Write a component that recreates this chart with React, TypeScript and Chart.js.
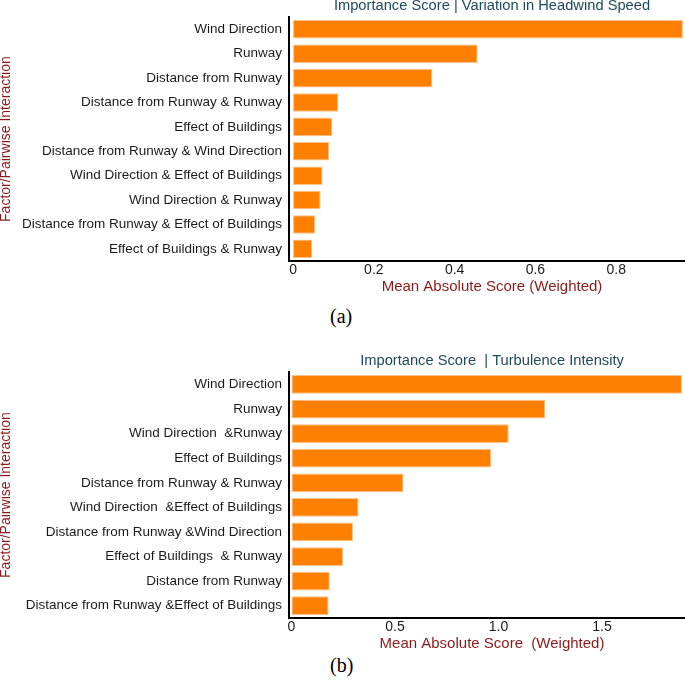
import React, { useEffect, useRef } from "react";
import { Chart, registerables } from "chart.js";

Chart.register(...registerables);

// ---- Data: panel (a) ----
const titleA = "Importance Score | Variation in Headwind Speed";
const categoriesA = [
  "Wind Direction",
  "Runway",
  "Distance from Runway",
  "Distance from Runway & Runway",
  "Effect of Buildings",
  "Distance from Runway & Wind Direction",
  "Wind Direction & Effect of Buildings",
  "Wind Direction & Runway",
  "Distance from Runway & Effect of Buildings",
  "Effect of Buildings & Runway",
];
const valuesA = [0.965, 0.457, 0.345, 0.112, 0.097, 0.089, 0.073, 0.068, 0.055, 0.047];
const xTickValuesA = [0, 0.2, 0.4, 0.6, 0.8];
const xTickLabelsA = ["0", "0.2", "0.4", "0.6", "0.8"];
const xTitleA = "Mean Absolute Score (Weighted)";

// ---- Data: panel (b) ----
const titleB = "Importance Score  | Turbulence Intensity";
const categoriesB = [
  "Wind Direction",
  "Runway",
  "Wind Direction  &Runway",
  "Effect of Buildings",
  "Distance from Runway & Runway",
  "Wind Direction  &Effect of Buildings",
  "Distance from Runway &Wind Direction",
  "Effect of Buildings  & Runway",
  "Distance from Runway",
  "Distance from Runway &Effect of Buildings",
];
const valuesB = [1.886, 1.226, 1.049, 0.965, 0.541, 0.324, 0.297, 0.249, 0.185, 0.179];
const xTickValuesB = [0, 0.5, 1.0, 1.5];
const xTickLabelsB = ["0", "0.5", "1.0", "1.5"];
const xTitleB = "Mean Absolute Score  (Weighted)";

const yTitle = "Factor/Pairwise Interaction";

const SANS = "'Liberation Sans', Arial, Helvetica, sans-serif";

type PanelProps = {
  top: number;
  height: number;
  title: string;
  titlePadTop: number;
  titlePadBottom: number;
  labels: string[];
  values: number[];
  min: number;
  max: number;
  tickValues: number[];
  tickLabels: string[];
  xTitle: string;
};

function Panel(p: PanelProps) {
  const ref = useRef<HTMLCanvasElement | null>(null);
  useEffect(() => {
    if (!ref.current) return;
    const chart = new Chart(ref.current, {
      type: "bar",
      data: {
        labels: p.labels,
        datasets: [
          {
            data: p.values,
            backgroundColor: "#FF8000",
            borderColor: "#FFC28A",
            borderWidth: 1,
            borderSkipped: false,
            barPercentage: 0.76,
            categoryPercentage: 1,
          },
        ],
      },
      options: {
        indexAxis: "y",
        animation: false,
        responsive: false,
        devicePixelRatio: 1,
        layout: { padding: 0 },
        plugins: {
          legend: { display: false },
          tooltip: { enabled: false },
          title: {
            display: true,
            fullSize: false,
            text: p.title,
            color: "#1D4B5A",
            font: { family: SANS, size: 14.7, weight: "normal", lineHeight: 0.8 },
            padding: { top: p.titlePadTop, bottom: p.titlePadBottom },
          },
        },
        scales: {
          x: {
            type: "linear",
            min: p.min,
            max: p.max,
            grid: { display: false, drawTicks: false },
            border: { display: true, color: "#000000", width: 2 },
            afterBuildTicks: (axis: any) => {
              axis.ticks = p.tickValues.map((v) => ({ value: v }));
            },
            afterFit: (axis: any) => {
              axis.height = 35;
            },
            ticks: {
              padding: 2,
              autoSkip: false,
              maxRotation: 0,
              color: "#1a1a1a",
              font: { family: SANS, size: 14, lineHeight: 1 },
              callback: (_v: any, i: number) => p.tickLabels[i],
            },
            title: {
              display: true,
              text: p.xTitle,
              color: "#8B1A1A",
              font: { family: SANS, size: 15, lineHeight: 1.2 },
              padding: { top: 0, bottom: 0 },
            },
          },
          y: {
            type: "category",
            grid: { display: false, drawTicks: false },
            border: { display: true, color: "#000000", width: 2 },
            afterFit: (axis: any) => {
              axis.width = 289;
            },
            ticks: {
              padding: 7,
              autoSkip: false,
              color: "#1a1a1a",
              font: { family: SANS, size: 13.5 },
            },
            title: {
              display: true,
              text: yTitle,
              color: "#8B1A1A",
              font: { family: SANS, size: 14, lineHeight: 0.86 },
              padding: { top: 0, bottom: 0 },
            },
          },
        },
      } as any,
    });
    return () => chart.destroy();
  }, []);
  return (
    <canvas
      ref={ref}
      width={695}
      height={p.height}
      style={{ position: "absolute", left: 0, top: p.top, width: 695, height: p.height, display: "block" }}
    />
  );
}

export default function App() {
  const captionStyle: React.CSSProperties = {
    position: "absolute",
    left: 0,
    width: 681,
    textAlign: "center",
    fontFamily: "'Liberation Serif', 'Times New Roman', serif",
    fontSize: 20,
    lineHeight: "20px",
    color: "#000",
  };
  return (
    <div
      style={{
        position: "absolute",
        left: 0,
        top: 0,
        width: 685,
        height: 686,
        overflow: "hidden",
        background: "#fff",
      }}
    >
      <Panel
        top={0}
        height={296}
        title={titleA}
        titlePadTop={0}
        titlePadBottom={5.4}
        labels={categoriesA}
        values={valuesA}
        min={-0.01}
        max={0.995}
        tickValues={xTickValuesA}
        tickLabels={xTickLabelsA}
        xTitle={xTitleA}
      />
      <div style={{ ...captionStyle, top: 306, left: 330, width: 22, textAlign: "left" }}>(a)</div>
      <Panel
        top={340}
        height={313}
        title={titleB}
        titlePadTop={14.7}
        titlePadBottom={5.7}
        labels={categoriesB}
        values={valuesB}
        min={-0.012}
        max={1.949}
        tickValues={xTickValuesB}
        tickLabels={xTickLabelsB}
        xTitle={xTitleB}
      />
      <div style={{ ...captionStyle, top: 655, left: 330, width: 22, textAlign: "left" }}>(b)</div>
    </div>
  );
}
